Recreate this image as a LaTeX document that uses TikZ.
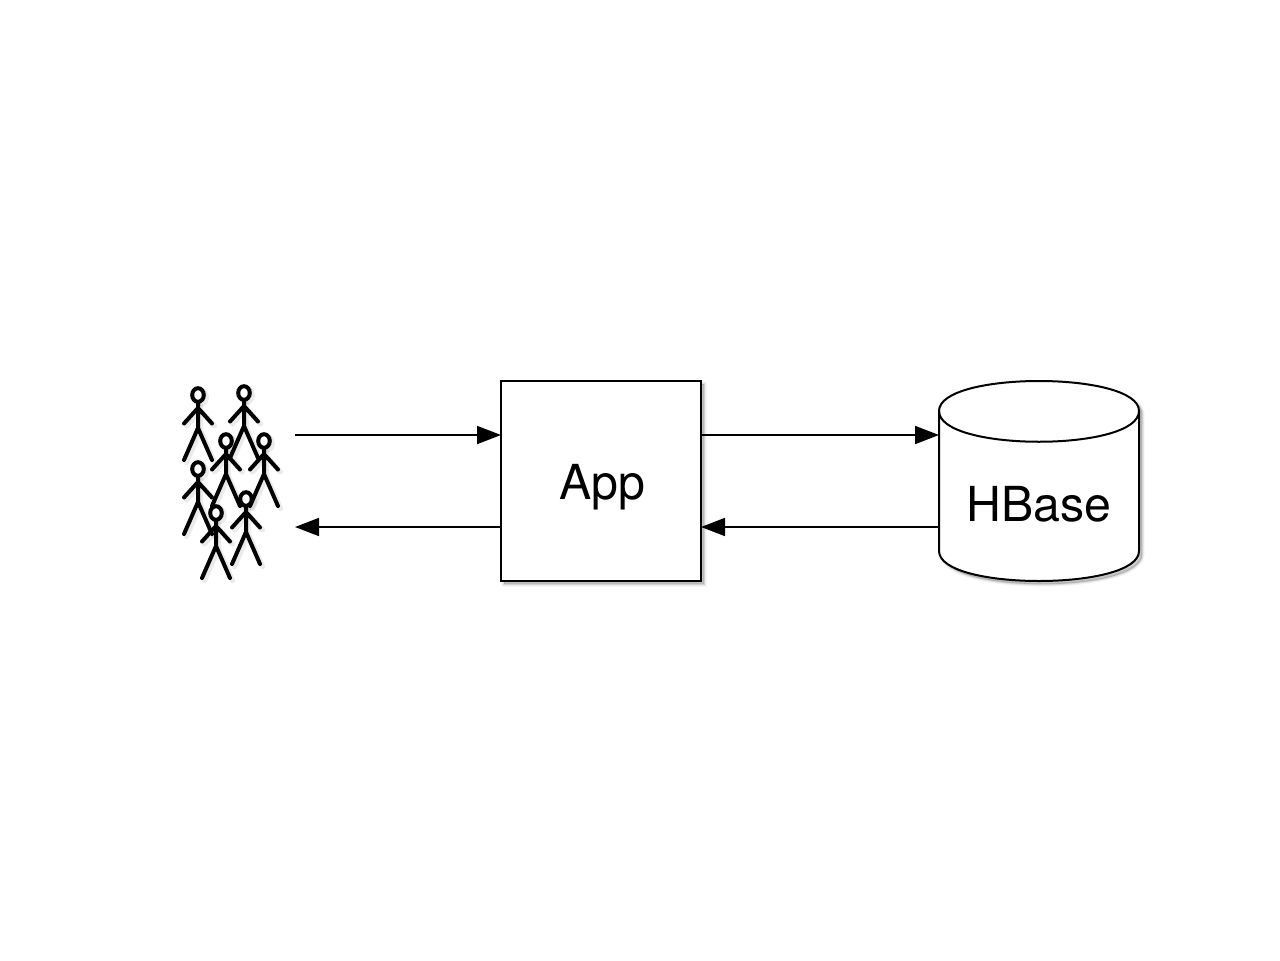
\documentclass[tikz,border=0pt]{standalone}
\usepackage{fontspec}
\setmainfont{TeX Gyre Heros}
\usetikzlibrary{arrows.meta,shadows}
\tikzset{
  softshadow/.style={
    preaction={draw=black,fill=black,opacity=0.035,line width=3.6pt,transform canvas={shift={(2.4pt,-2.4pt)}}},
    preaction={draw=black,fill=black,opacity=0.04,line width=2.6pt,transform canvas={shift={(2.4pt,-2.4pt)}}},
    preaction={draw=black,fill=black,opacity=0.05,line width=1.6pt,transform canvas={shift={(2.4pt,-2.4pt)}}},
    preaction={draw=black,fill=black,opacity=0.06,line width=0.6pt,transform canvas={shift={(2.4pt,-2.4pt)}}}},
  boxline/.style={draw=black,line width=1.5pt,fill=white},
  conn/.style={draw=black,line width=1.3pt,-{Triangle[length=18pt,width=13.5pt]},shorten >=0pt},
  label/.style={font=\fontsize{36.2pt}{41pt}\selectfont,anchor=base,inner sep=0pt,text=black},
  anchorbox/.style={minimum width=150pt,minimum height=150pt,inner sep=0pt,outer sep=0pt},
  limb/.style={draw=black,line width=3pt,line cap=round,line join=round},
  limbshadow/.style={draw=black,opacity=0.08,line width=4pt,line cap=round,transform canvas={shift={(1.8pt,-1.8pt)}}},
  headline/.style={draw=black,line width=3pt,fill=white},
  stick/.pic={
    \path[limbshadow] (0,8) -- (0,33) (-14,28.5) -- (0,13) -- (14,28.5) (-14,65) -- (0,33) -- (14,65);
    \path[limbshadow] (0,0) ellipse[x radius=5.8,y radius=6.8];
    \draw[limb] (0,6) -- (0,33) (-14,28.5) -- (0,13) -- (14,28.5) (-14,65) -- (0,33) -- (14,65);
    \draw[headline] (0,0) ellipse[x radius=5.8,y radius=6.8];
  }
}
\begin{document}
\begin{tikzpicture}[x=0.75pt,y=-0.75pt]
\useasboundingbox (0,0) rectangle (1280,960);
\fill[white] (0,0) rectangle (1280,960);

% crowd
\foreach \px/\py in {198/395,244/393,226/441,264/441,198/469,216/513,246/499}
  \pic at (\px,\py) {stick};

% free ends of the connectors on the crowd side
\coordinate (crowdout) at (295,435);
\coordinate (crowdin) at (295,527);

% App
\node[anchorbox,boxline,softshadow] (app) at (601,481) {};
\node[label] (applabel) at (602,499) {App};

% HBase
\node[anchorbox] (hbase) at (1039,481) {};
\path[boxline,softshadow] (939,411) .. controls (939,371) and (1139,371) .. (1139,411)
  -- (1139,551) .. controls (1139,591) and (939,591) .. (939,551) -- cycle;
\draw[black,line width=1.5pt] (939,411) .. controls (939,452) and (1139,452) .. (1139,411);
\node[label] (hbaselabel) at (1039,521) {HBase};

% connectors
\draw[conn] (crowdout) -- (app.west |- crowdout);
\draw[conn] (app.west |- crowdin) -- (crowdin);
\draw[conn] (app.east |- crowdout) -- (hbase.west |- crowdout);
\draw[conn] (hbase.west |- crowdin) -- (app.east |- crowdin);
\end{tikzpicture}
\end{document}
